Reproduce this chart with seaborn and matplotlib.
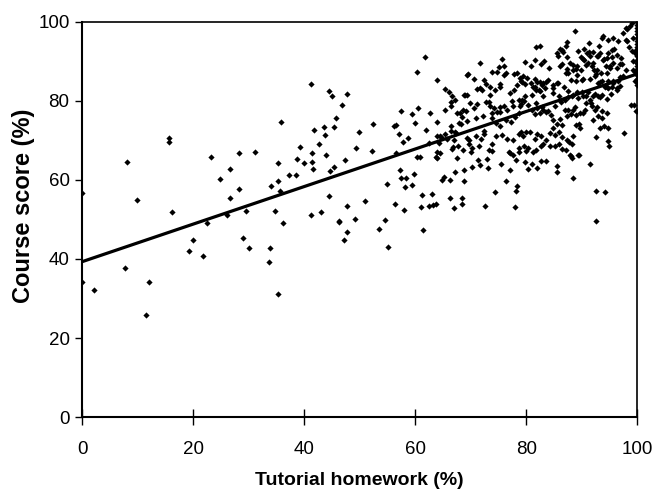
# Tutorial homework vs course score scatter with linear trendline

import seaborn as sns
import matplotlib.pyplot as plt
import numpy as np

# Sparse left part (homework < 42 %)
hw_low = [0, 0, 2.2, 7.8, 8.1, 9.9, 11.5, 12.0, 15.7, 15.7, 16.2, 19.2, 19.9, 21.7,
          22.5, 23.2, 24.8, 26.1, 26.6, 26.6, 28.3, 28.3, 29.0, 29.6, 30.1, 31.2,
          33.6, 33.8, 34.0, 34.7, 35.3, 35.3, 35.3, 35.7, 35.9, 36.1, 37.3, 38.6,
          38.7, 39.2, 39.9, 41.2, 41.2, 41.4, 41.4, 41.7, 41.6]
score_low = [56.6, 34.2, 32.2, 37.6, 64.4, 54.9, 25.8, 34.2, 70.6, 69.5, 51.8, 42.0,
             44.7, 40.8, 49.1, 65.9, 60.1, 51.1, 62.8, 55.4, 66.8, 57.7, 45.2, 52.2,
             42.8, 67.1, 39.2, 42.8, 58.5, 52.2, 64.3, 59.7, 31.1, 57.2, 74.6, 49.0,
             61.2, 61.2, 65.2, 68.3, 64.3, 84.3, 51.1, 66.8, 64.6, 72.6, 62.7]

# 42 - 62 %
hw_b = [42.6, 43.1, 43.5, 43.7, 44.0, 44.5, 45.1, 44.5, 44.7, 45.4, 45.4, 45.7, 46.8,
        47.7, 47.3, 47.7, 46.2, 46.3, 49.1, 47.7, 47.2, 49.4, 49.9, 51.0, 52.2, 52.4,
        53.5, 54.5, 55.1, 54.9, 56.2, 56.5, 56.4, 56.6, 57.0, 57.2, 57.4, 57.5, 57.8,
        58.0, 58.2, 58.4, 58.7, 59.4, 59.5, 59.8, 59.9, 60.3, 60.4, 60.5, 60.8, 61.0,
        61.2, 61.4, 61.7, 62.0]
score_b = [69.0, 51.9, 73.3, 71.4, 66.3, 82.5, 81.3, 55.8, 62.3, 63.2, 73.3, 75.7, 78.9,
           81.6, 65.1, 53.4, 49.7, 49.3, 50.2, 46.7, 44.8, 68.0, 72.2, 54.6, 67.4, 74.2,
           47.5, 49.9, 43.1, 59.0, 73.5, 73.8, 53.9, 66.9, 71.7, 62.5, 77.4, 60.4, 69.5,
           52.3, 58.2, 60.4, 70.6, 76.6, 58.7, 61.6, 74.5, 87.2, 65.9, 78.1, 65.9, 53.1,
           56.1, 47.4, 91.1, 72.6]

# 62 - 76 %
hw_c = [62.4, 62.7, 62.4, 63.2, 63.8, 63.1, 63.7, 63.9, 63.9, 64.0, 64.0, 64.0, 64.3,
        64.4, 64.5, 64.7, 64.8, 65.2, 65.4, 65.4, 65.4, 65.8, 66.0, 66.2, 66.3, 66.4,
        66.4, 66.4, 66.5, 66.7, 66.7, 66.8, 66.9, 67.0, 67.1, 67.2, 67.2, 67.4, 67.6,
        67.6, 67.7, 67.9, 68.0, 68.2, 68.4, 68.5, 68.5, 68.6, 68.6, 68.7, 68.7, 68.8,
        68.9, 69.2, 69.3, 69.3, 69.4, 69.4, 69.5, 69.6, 69.7, 69.9, 70.1, 70.3, 70.3,
        70.5, 70.5, 70.9, 71.0, 71.1, 71.1, 71.3, 71.4, 71.6, 71.6, 71.7, 71.8, 72.0,
        72.2, 72.3, 72.4, 72.4, 72.6, 72.8, 72.8, 72.9, 73.1, 73.2, 73.3, 73.4, 73.5,
        73.5, 73.8, 73.8, 73.9, 73.9, 73.9, 74.1, 74.3, 74.3, 74.6, 74.6, 74.7, 74.8,
        75.0, 75.2, 75.2, 75.2, 75.2, 75.3, 75.4, 75.7, 75.7, 75.9, 75.9]
score_c = [69.3, 77.0, 53.4, 53.6, 53.8, 56.5, 65.9, 71.0, 74.6, 85.2, 67.1, 65.5, 69.3,
           66.7, 71.2, 70.8, 60.0, 60.7, 83.0, 71.5, 77.7, 70.3, 82.3, 55.5, 59.9, 73.5,
           72.3, 78.8, 79.6, 81.1, 67.8, 68.4, 53.0, 70.0, 80.3, 62.0, 72.2, 71.8, 76.8,
           65.5, 68.5, 74.5, 76.9, 74.2, 55.5, 53.9, 75.9, 67.6, 77.7, 81.5, 59.7, 62.5,
           81.4, 77.4, 81.5, 86.4, 74.9, 70.5, 86.7, 70.1, 69.1, 79.4, 67.1, 68.1, 63.2,
           78.1, 85.6, 71.2, 75.6, 79.3, 83.1, 65.1, 68.6, 63.7, 83.2, 89.6, 70.3, 82.8,
           76.1, 72.3, 71.7, 85.3, 53.4, 79.6, 84.2, 65.2, 62.9, 67.5, 79.7, 78.6, 81.4,
           83.5, 76.9, 67.3, 87.2, 75.6, 69.1, 78.2, 57.0, 82.8, 71.0, 74.4, 87.3, 77.2,
           88.5, 73.5, 77.2, 78.3, 84.3, 83.5, 64.1, 71.3, 90.6, 78.6, 88.7]

# 76 - 88 %
hw_d = [76.0, 76.3, 76.4, 76.4, 76.5, 76.6, 76.8, 77.0, 77.1, 77.1, 77.2, 77.4, 77.6,
        77.6, 77.6, 77.7, 77.8, 77.9, 78.0, 78.1, 78.2, 78.3, 78.4, 78.4, 78.6, 78.6,
        78.6, 78.6, 78.7, 78.8, 78.8, 79.0, 79.0, 79.0, 79.2, 79.3, 79.5, 79.5, 79.6,
        79.6, 79.8, 79.8, 79.8, 79.8, 80.0, 80.0, 80.1, 80.3, 80.3, 80.4, 80.7, 80.8,
        80.9, 81.0, 81.0, 81.0, 81.2, 81.2, 81.5, 81.5, 81.5, 81.5, 81.6, 81.7, 81.8,
        81.8, 81.8, 81.9, 82.0, 82.0, 82.0, 82.3, 82.4, 82.4, 82.4, 82.4, 82.6, 82.6,
        82.7, 82.7, 82.9, 82.9, 83.0, 83.1, 83.1, 83.1, 83.2, 83.4, 83.5, 83.6, 83.6,
        83.6, 84.0, 84.0, 84.1, 84.2, 84.2, 84.5, 84.8, 84.8, 84.8, 84.9, 84.9, 85.2,
        85.2, 85.2, 85.5, 85.5, 85.5, 85.5, 85.6, 85.7, 85.8, 85.9, 85.9, 85.9, 86.0,
        86.0, 86.1, 86.3, 86.4, 86.4, 86.4, 86.5, 86.5, 86.7, 86.8, 87.0, 87.0, 87.1,
        87.2, 87.2, 87.3, 87.3, 87.3, 87.4, 87.4, 87.6, 87.6, 87.6, 87.6, 87.7, 87.9,
        87.9]
score_d = [86.5, 59.7, 86.9, 75.2, 77.6, 70.3, 67.1, 81.9, 62.4, 66.8, 74.7, 79.9, 70.2,
           78.6, 66.3, 82.8, 86.7, 53.1, 75.9, 65.1, 57.3, 84.0, 58.5, 86.9, 67.1, 71.5,
           76.9, 80.2, 68.0, 78.6, 85.7, 72.0, 79.1, 85.1, 80.3, 84.7, 71.0, 86.2, 79.9,
           68.5, 64.4, 81.1, 84.2, 89.9, 72.0, 67.4, 85.7, 78.9, 62.7, 68.0, 72.0, 84.6,
           88.7, 63.9, 77.6, 81.4, 67.0, 83.5, 70.3, 76.6, 83.6, 90.2, 85.5, 67.6, 79.4,
           82.8, 93.7, 71.5, 62.9, 78.1, 84.8, 82.8, 76.9, 84.7, 82.5, 93.8, 71.0, 68.6,
           64.7, 89.2, 78.4, 84.0, 77.7, 69.1, 81.1, 84.5, 90.0, 83.2, 64.7, 70.2, 77.2,
           84.8, 85.3, 77.5, 88.3, 71.8, 68.5, 76.4, 82.0, 73.2, 83.3, 75.2, 84.0, 71.3,
           68.5, 78.6, 74.0, 84.5, 63.6, 62.0, 92.1, 91.2, 84.6, 81.1, 72.2, 69.1, 75.4,
           88.7, 93.2, 79.6, 70.8, 89.4, 92.9, 73.8, 67.8, 92.4, 83.6, 80.3, 77.7, 87.0,
           93.8, 67.5, 70.2, 88.0, 91.0, 76.1, 94.9, 77.6, 81.0, 82.4, 87.0, 69.5, 66.3,
           89.5]

# 88 - 100 %
hw_e = [88.0, 88.0, 88.0, 88.2, 88.2, 88.3, 88.4, 88.4, 88.4, 88.4, 88.5, 88.5, 88.7,
        88.8, 88.9, 88.9, 89.0, 89.0, 89.2, 89.2, 89.2, 89.3, 89.3, 89.4, 89.5, 89.5,
        89.6, 89.7, 89.8, 89.9, 90.0, 90.0, 90.2, 90.2, 90.2, 90.2, 90.4, 90.4, 90.6,
        90.7, 90.8, 90.8, 90.9, 91.1, 91.2, 91.3, 91.3, 91.4, 91.4, 91.5, 91.5, 91.6,
        91.8, 91.8, 92.0, 92.0, 92.1, 92.1, 92.2, 92.3, 92.3, 92.4, 92.5, 92.5, 92.5,
        92.6, 92.7, 92.7, 92.7, 92.9, 92.9, 93.0, 93.0, 93.1, 93.2, 93.3, 93.3, 93.3,
        93.5, 93.6, 93.6, 93.6, 93.7, 93.7, 93.9, 93.9, 94.0, 94.0, 94.2, 94.2, 94.3,
        94.5, 94.5, 94.5, 94.5, 94.5, 94.7, 94.7, 94.7, 94.7, 94.8, 94.8, 94.9, 95.0,
        95.1, 95.2, 95.4, 95.5, 95.5, 95.6, 95.7, 95.7, 95.7, 95.8, 96.3, 96.3, 96.3,
        96.3, 96.6, 96.6, 96.8, 96.9, 96.9, 97.1, 97.3, 97.5, 97.5, 97.6, 98.0, 98.0,
        98.0, 98.2, 98.2, 98.5, 98.7, 98.9, 99.1, 99.1, 99.2, 99.2, 99.2, 99.4, 99.6,
        99.6, 99.6, 99.7, 99.8, 99.9]
score_e = [85.3, 76.7, 66.1, 69.1, 65.4, 81.3, 77.7, 71.0, 60.5, 89.1, 87.8, 81.4, 78.4,
           97.7, 76.4, 73.9, 88.0, 85.1, 82.3, 88.7, 86.5, 92.6, 80.6, 66.4, 74.2, 66.2,
           73.0, 76.9, 87.8, 91.1, 82.1, 85.3, 90.6, 76.9, 81.3, 85.5, 93.2, 90.4, 77.7,
           89.1, 81.1, 79.4, 92.1, 89.5, 82.3, 92.4, 94.6, 80.3, 85.6, 91.3, 63.9, 79.4,
           78.6, 88.7, 81.1, 89.6, 92.4, 75.2, 87.7, 81.8, 86.2, 77.7, 70.8, 57.3, 49.5,
           86.7, 91.2, 87.8, 78.4, 81.1, 91.3, 76.2, 84.5, 93.8, 73.2, 92.1, 84.8, 80.9,
           87.0, 95.8, 81.5, 77.5, 75.6, 85.0, 90.4, 96.3, 73.5, 90.5, 83.5, 57.0, 88.7,
           90.7, 87.0, 83.6, 80.4, 76.9, 83.3, 85.0, 92.1, 69.8, 95.4, 73.0, 68.5, 88.7,
           88.2, 81.8, 92.9, 91.1, 83.5, 85.0, 95.8, 89.5, 84.5, 93.0, 88.2, 91.7, 83.3,
           82.8, 95.1, 85.0, 86.0, 83.7, 89.4, 90.7, 89.4, 97.1, 86.2, 71.8, 98.5, 95.3,
           87.8, 95.1, 98.1, 93.7, 99.0, 78.9, 99.7, 92.7, 95.8, 90.1, 87.8, 78.9, 92.1,
           87.4, 85.1, 92.8, 77.4, 89.5]

# Full marks column
hw_full = [100] * 22
score_full = [100, 99.2, 98.4, 97.6, 96.8, 96.0, 95.2, 94.4, 93.6, 92.8, 92.0, 91.2,
              90.4, 89.6, 88.8, 88.0, 87.2, 86.4, 85.6, 84.8, 84.0, 77.5]

# Linear trendline end points
trend_x = [0, 100]
trend_y = [39.3, 86.8]

hw = np.concatenate([hw_low, hw_b, hw_c, hw_d, hw_e, hw_full])
score = np.concatenate([score_low, score_b, score_c, score_d, score_e, score_full])

sns.set_style('ticks')
plt.rcParams['font.family'] = ['Liberation Sans', 'DejaVu Sans']
plt.rcParams['text.color'] = 'black'
plt.rcParams['axes.labelcolor'] = 'black'

fig = plt.figure(figsize=(6.54, 4.93), dpi=100)
ax = fig.add_axes([0.1255, 0.154, 0.849, 0.802])

sns.scatterplot(x=hw, y=score, marker='D', s=10, color='black', linewidth=0, ax=ax)
sns.lineplot(x=trend_x, y=trend_y, color='black', linewidth=2.3, ax=ax)

ax.set_xlim(0, 100)
ax.set_ylim(0, 100)
ax.set_xticks(range(0, 101, 20))
ax.set_yticks(range(0, 101, 20))
ax.tick_params(axis='x', direction='inout', length=12, width=1, labelsize=13.5,
               pad=11, colors='black')
ax.tick_params(axis='y', direction='out', length=5, width=1, labelsize=13.5,
               pad=4, colors='black')
for side in ['left', 'bottom']:
    ax.spines[side].set_linewidth(1.5)
for side in ['top', 'right']:
    ax.spines[side].set_linewidth(1.2)
for sp in ax.spines.values():
    sp.set_color('black')

ax.set_xlabel('Tutorial homework (%)', fontsize=14, fontweight='bold')
ax.set_ylabel('Course score (%)', fontsize=17, fontweight='bold')
ax.xaxis.set_label_coords(0.5, -0.14)
ax.yaxis.set_label_coords(-0.085, 0.534)

fig.savefig('out.png', dpi=100)
